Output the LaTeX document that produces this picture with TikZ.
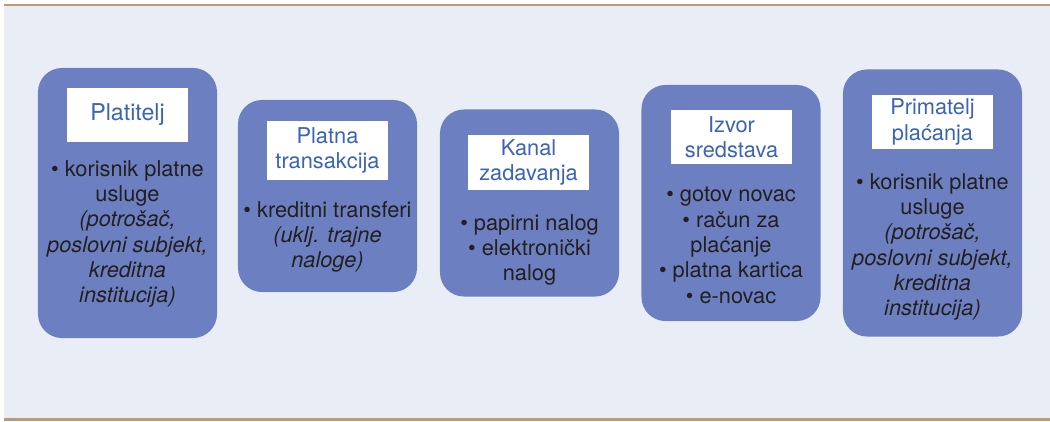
\documentclass[tikz,border=0pt]{standalone}
\usepackage{fontspec}
\setmainfont{TeX Gyre Heros}
\definecolor{panel}{HTML}{E9EDF6}
\definecolor{rule}{HTML}{BC9C6C}
\definecolor{boxfill}{HTML}{6C80C1}
\definecolor{titleblue}{HTML}{3B63B8}
\definecolor{bodytext}{HTML}{231F20}
\begin{document}
\begin{tikzpicture}
  [
    x = 0.025cm, y = -0.025cm,
    stage/.style = {fill = boxfill, rounded corners = 0.6cm, inner sep = 0pt, minimum width = 4.475cm},
    title/.style = {fill = white, text = titleblue, align = center, inner sep = 0pt,
        minimum width = 3.025cm, font = \fontsize{15.5}{18}\selectfont},
    body/.style = {anchor = north, text = bodytext, align = center, inner sep = 0pt,
        font = \fontsize{15.5}{18}\selectfont},
  ]

  \useasboundingbox (0,0) rectangle (1050,421);
  \fill [panel] (4,6) rectangle (1050,418);
  \draw [rule, line width = 2pt] (4,5) -- (1050,5);
  \draw [rule, line width = 2pt] (4,419.5) -- (1050,419.5);

  % payer
  \node (platitelj) [stage, minimum height = 6.75cm] at (127.5,203) {};
  \node (platiteljtitle) [title, minimum height = 1.35cm, font = \fontsize{16.5}{19}\selectfont]
    at (127.5,115) {Platitelj};
  \node (platiteljbody) [body] at (127.5,160)
    {\textbullet{} korisnik platne\\ usluge\\ \textit{(potrošač,}\\
     \textit{poslovni subjekt,}\\ \textit{kreditna}\\ \textit{institucija)}};

  % transaction
  \node (transakcija) [stage, minimum height = 4.8cm] at (327.5,196) {};
  \node (transakcijatitle) [title, minimum height = 1.475cm] at (327.5,150.5) {Platna\\ transakcija};
  \node (transakcijabody) [body] at (327.5,201)
    {\textbullet{} kreditni transferi\\ \textit{(uklj. trajne}\\ \textit{naloge)}};

  % channel
  \node (kanal) [stage, minimum height = 4.675cm] at (529.5,203) {};
  \node (kanaltitle) [title, minimum height = 1.375cm] at (528.5,162.5) {Kanal\\ zadavanja};
  \node (kanalbody) [body] at (529.5,214)
    {\textbullet{} papirni nalog\\ \textbullet{} elektronički\\ nalog};

  % source of funds
  \node (izvor) [stage, minimum height = 5.9cm] at (731,203) {};
  \node (izvortitle) [title, minimum height = 1.35cm] at (731.5,137) {Izvor\\ sredstava};
  \node (izvorbody) [body] at (731,187)
    {\textbullet{} gotov novac\\ \textbullet{} račun za\\ plaćanje\\
     \textbullet{} platna kartica\\ \textbullet{} e-novac};

  % payee
  \node (primatelj) [stage, minimum height = 6.675cm] at (932.5,203) {};
  \node (primateljtitle) [title, minimum height = 1.35cm] at (932.5,122) {Primatelj\\ plaćanja};
  \node (primateljbody) [body] at (932.5,173)
    {\textbullet{} korisnik platne\\ usluge\\ \textit{(potrošač,}\\
     \textit{poslovni subjekt,}\\ \textit{kreditna}\\ \textit{institucija)}};

\end{tikzpicture}
\end{document}
